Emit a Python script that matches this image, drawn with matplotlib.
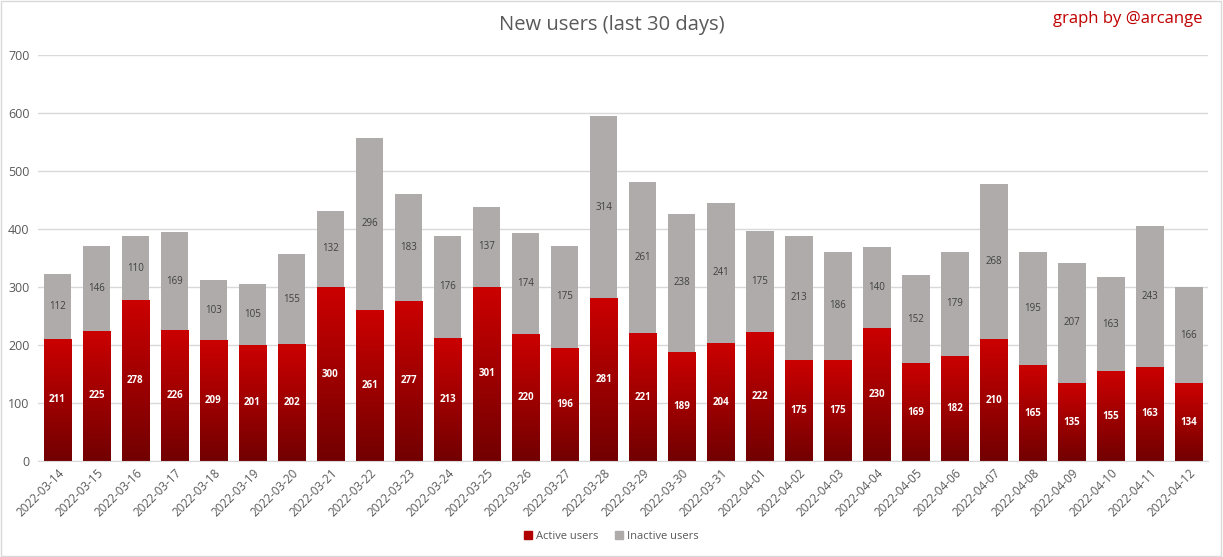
import matplotlib
matplotlib.use("Agg")
import matplotlib.pyplot as plt
import numpy as np
from matplotlib.colors import LinearSegmentedColormap
from matplotlib.patches import Rectangle

# ── Data ─────────────────────────────────────────────────────────────
dates = [
    "2022-03-14", "2022-03-15", "2022-03-16", "2022-03-17", "2022-03-18",
    "2022-03-19", "2022-03-20", "2022-03-21", "2022-03-22", "2022-03-23",
    "2022-03-24", "2022-03-25", "2022-03-26", "2022-03-27", "2022-03-28",
    "2022-03-29", "2022-03-30", "2022-03-31", "2022-04-01", "2022-04-02",
    "2022-04-03", "2022-04-04", "2022-04-05", "2022-04-06", "2022-04-07",
    "2022-04-08", "2022-04-09", "2022-04-10", "2022-04-11", "2022-04-12",
]
active = [211, 225, 278, 226, 209, 201, 202, 300, 261, 277,
          213, 301, 220, 196, 281, 221, 189, 204, 222, 175,
          175, 230, 169, 182, 210, 165, 135, 155, 163, 134]
inactive = [112, 146, 110, 169, 103, 105, 155, 132, 296, 183,
            176, 137, 174, 175, 314, 261, 238, 241, 175, 213,
            186, 140, 152, 179, 268, 195, 207, 163, 243, 166]

# ── Style ────────────────────────────────────────────────────────────
RED_TOP = "#CC0000"
RED_BOTTOM = "#720000"
GREY = "#AFABAB"
TEXT = "#595959"
FONT = "Open Sans"

plt.rcParams["font.family"] = [FONT, "DejaVu Sans"]

fig = plt.figure(figsize=(12.23, 5.57), dpi=100)
ax = fig.add_axes([0.031, 0.172, 0.957, 0.729])

x = np.arange(len(dates))
width = 0.71

ax.bar(x, inactive, width, bottom=active, color=GREY, zorder=2)
bars = ax.bar(x, active, width, color="none", zorder=2)

# vertical gradient inside each active bar
cmap = LinearSegmentedColormap.from_list("redgrad", [RED_BOTTOM, RED_TOP])
grad = np.linspace(0, 1, 256).reshape(-1, 1)
for b in bars:
    x0, y0 = b.get_x(), b.get_y()
    w, h = b.get_width(), b.get_height()
    im = ax.imshow(grad, cmap=cmap, origin="lower", aspect="auto",
                   extent=[x0, x0 + w, y0, y0 + h], zorder=2.5)
    im.set_clip_path(b)

# value labels
for xi, a, i in zip(x, active, inactive):
    ax.text(xi, a / 2, str(a), ha="center", va="center", fontsize=7,
            color="white", fontweight="bold", zorder=4)
    ax.text(xi, a + i / 2, str(i), ha="center", va="center", fontsize=7,
            color="#404040", zorder=4)

ax.set_xlim(-0.5, len(dates) - 0.5)
ax.set_ylim(0, 700)
ax.set_yticks(range(0, 701, 100))
ax.set_xticks(x)
ax.set_xticklabels(dates, rotation=45, ha="right", rotation_mode="anchor",
                   fontsize=8.5, color=TEXT)
ax.tick_params(axis="y", labelsize=9, colors=TEXT, length=0, pad=6)
ax.tick_params(axis="x", length=0, pad=4)
ax.grid(axis="y", color="#D9D9D9", linewidth=1, zorder=0)
ax.set_axisbelow(True)
for s in ["top", "right", "left"]:
    ax.spines[s].set_visible(False)
ax.spines["bottom"].set_color("#D9D9D9")

fig.text(0.5, 0.955, "New users (last 30 days)", ha="center", va="center",
         fontsize=14.5, color=TEXT)
fig.text(0.983, 0.965, "graph by @arcange", ha="right", va="center",
         fontsize=12, color="#C00000")

# legend
handles = [Rectangle((0, 0), 1, 1, color="#B00000"),
           Rectangle((0, 0), 1, 1, color=GREY)]
fig.legend(handles, ["Active users", "Inactive users"], loc="center",
           bbox_to_anchor=(0.5, 0.037), ncol=2, frameon=False, fontsize=8,
           handlelength=0.7, handleheight=0.7, handletextpad=0.4,
           columnspacing=1.5, labelcolor=TEXT)

# outer border
fig.patches.append(Rectangle((0.001, 0.002), 0.997, 0.996, transform=fig.transFigure,
                             fill=False, edgecolor="#D9D9D9", linewidth=1))

fig.savefig("out.png", dpi=100)
